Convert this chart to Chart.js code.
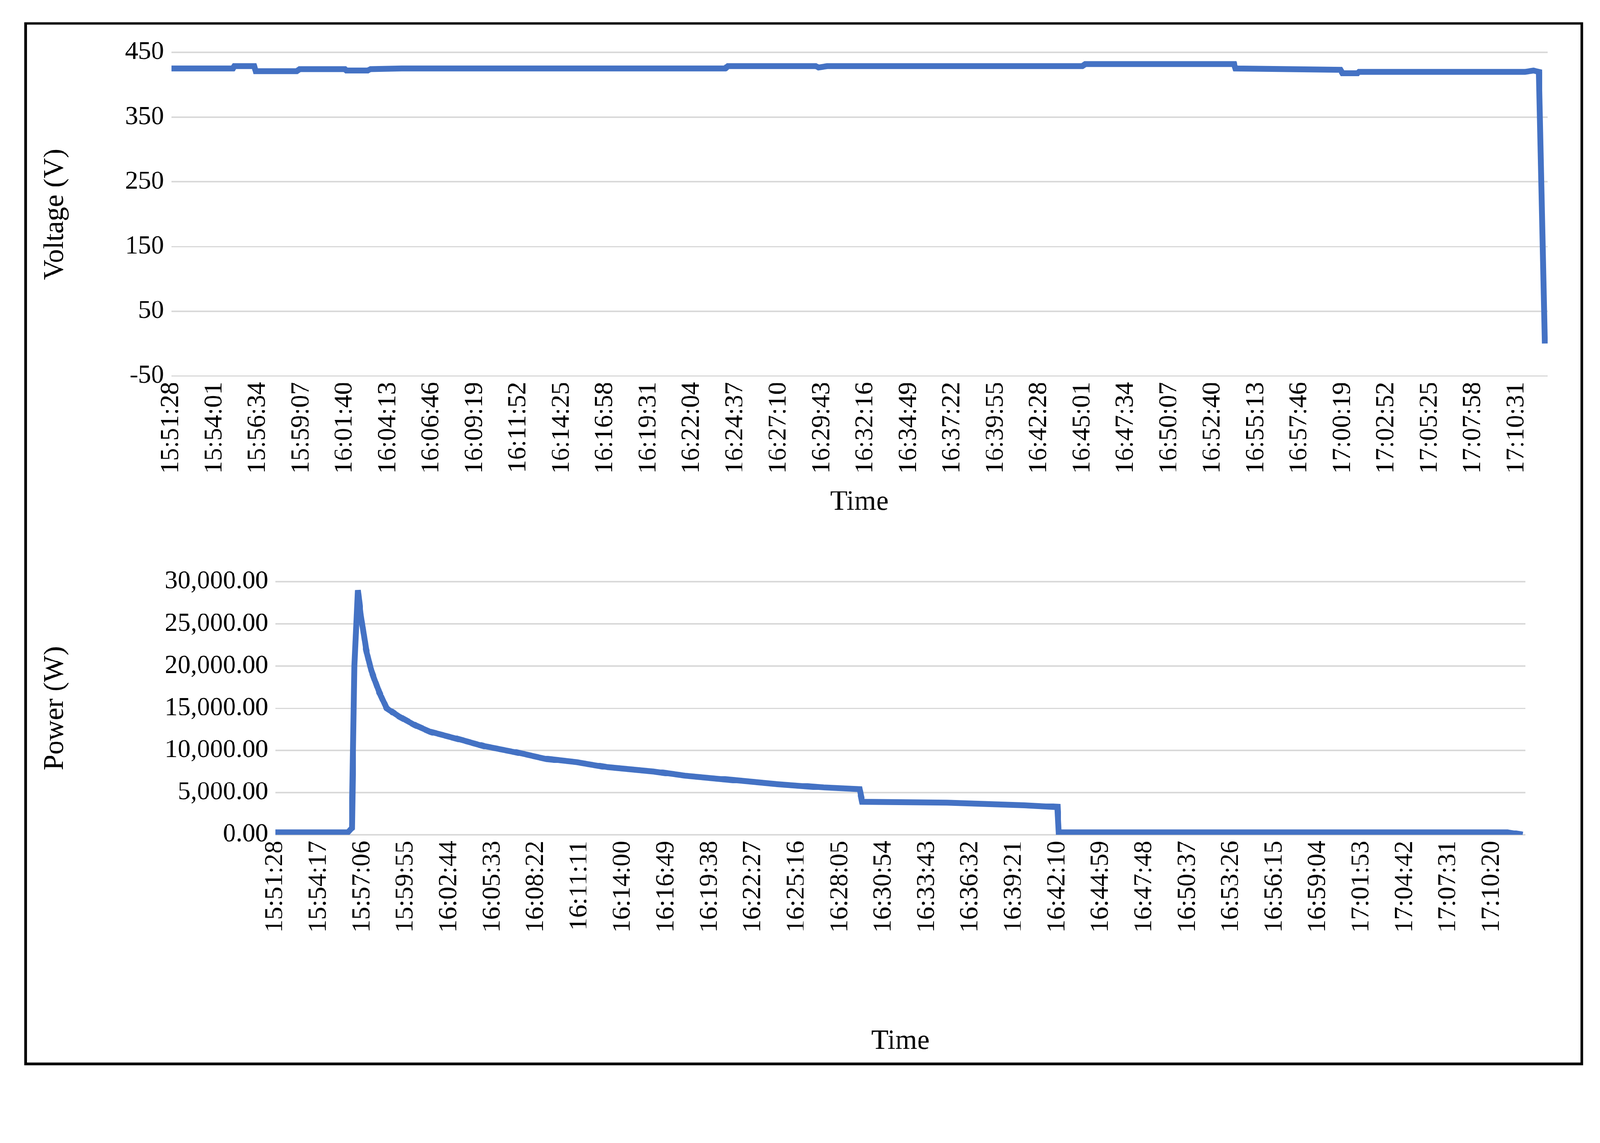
<!DOCTYPE html>
<html>
<head>
<meta charset="utf-8">
<script src="https://cdn.jsdelivr.net/npm/chart.js@4"></script>
<style>
  html, body { margin: 0; background: #fff; overflow: hidden; }
  #stage { position: absolute; left: 0; top: 0; width: 4332px; height: 2926px; transform-origin: 0 0; }
  #frame { position: absolute; left: 66px; top: 60px; width: 4220px; height: 2824px; border: 7px solid #000; box-sizing: border-box; }
  .wrap { position: absolute; }
</style>
</head>
<body>
<div id="stage">
  <div id="frame"></div>
  <div class="wrap" style="left:100px;top:80px;width:4150px;height:1330px"><canvas id="volt"></canvas></div>
  <div class="wrap" style="left:100px;top:1500px;width:4150px;height:1370px"><canvas id="power"></canvas></div>
</div>
<script>
const START = '15:51:28';

const voltTimes = ['15:51:28','15:55:05','15:55:10','15:56:20','15:56:25','15:58:50','15:59:00','16:01:40','16:01:45','16:03:00','16:03:10','16:05:00','16:24:00','16:24:10','16:29:20','16:29:30','16:30:00','16:45:00','16:45:10','16:53:55','16:54:00','17:00:10','17:00:17','17:01:10','17:01:15','17:11:00','17:11:30','17:11:50','17:12:10'];
const voltValues = [425,425,429,429,421,421,424,424,422,422,424,425,425,429,429,427,429,429,432,432,425,423,418,418,420,420,422,420,0];

const powerTimes = ['15:51:28','15:56:10','15:56:25','15:56:35','15:56:48','15:57:00','15:57:20','15:57:40','15:58:10','15:58:40','15:59:30','16:00:30','16:01:30','16:03:00','16:05:00','16:07:00','16:09:00','16:11:00','16:13:00','16:16:00','16:18:00','16:21:00','16:24:00','16:27:00','16:29:20','16:29:30','16:35:00','16:40:00','16:42:10','16:42:15','17:11:20','17:12:20'];
const powerValues = [300,300,800,20000,29000,26000,22000,19500,17000,15000,14000,13000,12200,11500,10500,9800,9000,8600,8000,7500,7000,6500,6000,5600,5400,3900,3800,3500,3300,300,300,0];

const voltTickStep = 153;   // seconds between x labels
const powerTickStep = 169;
const voltMax = 4852;
const powerMax = 4862;

// fit the fixed-size stage into whatever window we get
const k = Math.min(window.innerWidth / 4332, window.innerHeight / 2926);
document.getElementById('stage').style.transform = 'scale(' + k + ')';

function toSec(t) {
  const [h, m, s] = t.split(':').map(Number);
  return h * 3600 + m * 60 + s;
}
const t0 = toSec(START);
function fmt(v) {
  const s = t0 + v;
  const p = n => String(n).padStart(2, '0');
  return p(Math.floor(s / 3600)) + ':' + p(Math.floor(s / 60) % 60) + ':' + p(s % 60);
}

const FONT = "'Liberation Serif', 'DejaVu Serif', serif";
Chart.defaults.font.family = FONT;
Chart.defaults.color = '#000';

function makeChart(id, times, values, opts) {
  const data = times.map((t, i) => ({ x: toSec(t) - t0, y: values[i] }));
  return new Chart(document.getElementById(id), {
    type: 'line',
    data: { datasets: [{ data, borderColor: '#4472C4', borderWidth: 16, pointRadius: 0, tension: 0 }] },
    options: {
      responsive: false, animation: false,
      layout: { padding: { top: opts.padTop, right: opts.padRight } },
      plugins: { legend: { display: false }, tooltip: { enabled: false } },
      scales: {
        x: {
          type: 'linear', min: 0, max: opts.xMax,
          grid: { display: false }, border: { display: false },
          afterBuildTicks(ax) {
            const ticks = [];
            for (let v = 0; v <= opts.xMax; v += opts.step) ticks.push({ value: v });
            ax.ticks = ticks;
          },
          afterFit(ax) { ax.height = opts.xHeight; },
          ticks: { autoSkip: false, minRotation: 90, maxRotation: 90, font: { size: 70 }, callback: v => fmt(v), padding: 8 },
          title: { display: true, text: 'Time', font: { size: 76 }, padding: { top: opts.titleGap } }
        },
        y: {
          min: opts.yMin, max: opts.yMax,
          grid: { color: '#d9d9d9', lineWidth: 4, drawTicks: false },
          border: { display: false },
          afterBuildTicks(ax) { ax.ticks = opts.yTicks.map(v => ({ value: v })); },
          afterFit(ax) { ax.width = opts.yWidth; },
          ticks: { font: { size: 70 }, padding: 20, callback: opts.yFmt },
          title: { display: true, text: opts.yTitle, font: { size: 76 } }
        }
      }
    }
  });
}

function sizeCanvas(id, w, h) {
  const c = document.getElementById(id);
  c.width = w; c.height = h;
  c.style.width = w + 'px'; c.style.height = h + 'px';
}
sizeCanvas('volt', 4150, 1330);
sizeCanvas('power', 4150, 1370);

const voltTicks = [-50, 50, 150, 250, 350, 450];
const powerTicks = [0, 5000, 10000, 15000, 20000, 25000, 30000];

makeChart('volt', voltTimes, voltValues, {
  xMax: voltMax, step: voltTickStep, yMin: -50, yMax: 450, yTicks: voltTicks,
  yWidth: 364, xHeight: 392, padTop: 44, padRight: 60, titleGap: 20,
  yTitle: 'Voltage (V)', yFmt: v => String(v)
});
makeChart('power', powerTimes, powerValues, {
  xMax: powerMax, step: powerTickStep, yMin: 0, yMax: 30000, yTicks: powerTicks,
  yWidth: 646, xHeight: 610, padTop: 75, padRight: 120, titleGap: 200,
  yTitle: 'Power (W)', yFmt: v => v.toLocaleString('en-US', { minimumFractionDigits: 2, maximumFractionDigits: 2 })
});
</script>
</body>
</html>
